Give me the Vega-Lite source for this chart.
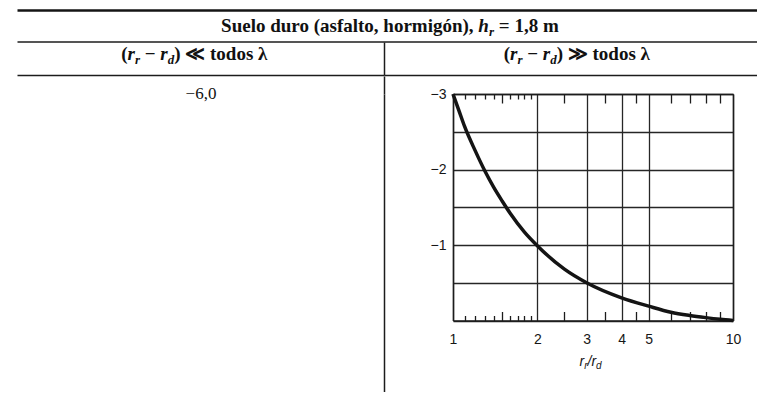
{
  "$schema": "https://vega.github.io/schema/vega-lite/v6.json",
  "background": "white",
  "padding": {"left": 17, "top": 10, "right": 0, "bottom": 0},
  "data": {"values": [{}]},
  "datasets": {
    "curve": [
      {"ratio": 1.0, "level": -3.0},
      {"ratio": 1.05, "level": -2.78},
      {"ratio": 1.1, "level": -2.57},
      {"ratio": 1.2, "level": -2.25},
      {"ratio": 1.3, "level": -1.98},
      {"ratio": 1.4, "level": -1.76},
      {"ratio": 1.5, "level": -1.58},
      {"ratio": 1.6, "level": -1.42},
      {"ratio": 1.8, "level": -1.17},
      {"ratio": 2.0, "level": -0.99},
      {"ratio": 2.5, "level": -0.68},
      {"ratio": 3.0, "level": -0.5},
      {"ratio": 4.0, "level": -0.3},
      {"ratio": 5.0, "level": -0.19},
      {"ratio": 6.0, "level": -0.11},
      {"ratio": 7.0, "level": -0.067},
      {"ratio": 8.0, "level": -0.038},
      {"ratio": 9.0, "level": -0.016},
      {"ratio": 10.0, "level": 0.0}
    ]
  },
  "spacing": 0,
  "vconcat": [
    {
      "width": 740,
      "height": 31.5,
      "layer": [
        {
          "mark": {"type": "text"},
          "encoding": {
            "text": {"value": ""},
            "x": {"datum": 0.5, "type": "quantitative", "scale": {"domain": [0, 1]},
                  "axis": {"orient": "top", "domain": true, "domainWidth": 2.5, "domainColor": "#141414", "ticks": false, "labels": false, "grid": false, "title": null}},
            "y": {"datum": 0.5, "type": "quantitative", "scale": {"domain": [0, 1]}, "axis": null}
          }
        },
        {
          "mark": {"type": "text"},
          "encoding": {
            "text": {"value": ""},
            "x": {"datum": 0.5, "type": "quantitative", "scale": {"domain": [0, 1]},
                  "axis": {"orient": "bottom", "domain": true, "domainWidth": 1.5, "domainColor": "#1c1c1c", "ticks": false, "labels": false, "grid": false, "title": null}},
            "y": {"datum": 0.5, "type": "quantitative", "scale": {"domain": [0, 1]}, "axis": null}
          }
        },
        {
          "mark": {"type": "text", "font": "Liberation Serif", "fontSize": 19, "fontWeight": "bold", "align": "right", "baseline": "alphabetic", "dx": 86.6, "dy": 6, "color": "#111"},
          "encoding": {"text": {"value": "Suelo duro (asfalto, hormigón),"}}
        },
        {
          "mark": {"type": "text", "font": "Liberation Serif", "fontSize": 19, "fontWeight": "bold", "fontStyle": "italic", "align": "left", "baseline": "alphabetic", "dx": 91.3, "dy": 6, "color": "#111"},
          "encoding": {"text": {"value": "h"}}
        },
        {
          "mark": {"type": "text", "font": "Liberation Serif", "fontSize": 13, "fontWeight": "bold", "fontStyle": "italic", "align": "left", "baseline": "alphabetic", "dx": 101.9, "dy": 10, "color": "#111"},
          "encoding": {"text": {"value": "r"}}
        },
        {
          "mark": {"type": "text", "font": "Liberation Serif", "fontSize": 19, "fontWeight": "bold", "align": "left", "baseline": "alphabetic", "dx": 111.8, "dy": 6, "color": "#111"},
          "encoding": {"text": {"value": "= 1,8 m"}}
        }
      ],
      "resolve": {"axis": {"x": "independent"}}
    },
    {
      "spacing": 0,
      "hconcat": [
        {
          "width": 367,
          "height": 33,
          "layer": [
            {
              "mark": {"type": "text"},
              "encoding": {
                "text": {"value": ""},
                "x": {"datum": 0.5, "type": "quantitative", "scale": {"domain": [0, 1]},
                      "axis": {"orient": "bottom", "domain": true, "domainWidth": 1.5, "domainColor": "#1c1c1c", "ticks": false, "labels": false, "grid": false, "title": null}},
                "y": {"datum": 0.5, "type": "quantitative", "scale": {"domain": [0, 1]},
                      "axis": {"orient": "right", "domain": true, "domainWidth": 1.5, "domainColor": "#1c1c1c", "ticks": false, "labels": false, "grid": false, "title": null, "minExtent": 0}}
              }
            },
            {"mark": {"type": "text", "font": "Liberation Serif", "fontSize": 19, "fontWeight": "bold", "align": "left", "baseline": "alphabetic", "dx": -79.3, "dy": 1, "color": "#111"}, "encoding": {"text": {"value": "("}}},
            {"mark": {"type": "text", "font": "Liberation Serif", "fontSize": 19, "fontWeight": "bold", "fontStyle": "italic", "align": "left", "baseline": "alphabetic", "dx": -73.0, "dy": 1, "color": "#111"}, "encoding": {"text": {"value": "r"}}},
            {"mark": {"type": "text", "font": "Liberation Serif", "fontSize": 13, "fontWeight": "bold", "fontStyle": "italic", "align": "left", "baseline": "alphabetic", "dx": -65.6, "dy": 5, "color": "#111"}, "encoding": {"text": {"value": "r"}}},
            {"mark": {"type": "text", "font": "Liberation Serif", "fontSize": 19, "fontWeight": "bold", "align": "left", "baseline": "alphabetic", "dx": -55.8, "dy": 1, "color": "#111"}, "encoding": {"text": {"value": "−"}}},
            {"mark": {"type": "text", "font": "Liberation Serif", "fontSize": 19, "fontWeight": "bold", "fontStyle": "italic", "align": "left", "baseline": "alphabetic", "dx": -40.2, "dy": 1, "color": "#111"}, "encoding": {"text": {"value": "r"}}},
            {"mark": {"type": "text", "font": "Liberation Serif", "fontSize": 13, "fontWeight": "bold", "fontStyle": "italic", "align": "left", "baseline": "alphabetic", "dx": -32.8, "dy": 5, "color": "#111"}, "encoding": {"text": {"value": "d"}}},
            {"mark": {"type": "text", "font": "Liberation Serif", "fontSize": 19, "fontWeight": "bold", "align": "left", "baseline": "alphabetic", "dx": -26.3, "dy": 1, "color": "#111"}, "encoding": {"text": {"value": ") ≪ todos λ"}}}
          ]
        },
        {
          "width": 373,
          "height": 33,
          "layer": [
            {
              "mark": {"type": "text"},
              "encoding": {
                "text": {"value": ""},
                "x": {"datum": 0.5, "type": "quantitative", "scale": {"domain": [0, 1]},
                      "axis": {"orient": "bottom", "domain": true, "domainWidth": 1.5, "domainColor": "#1c1c1c", "ticks": false, "labels": false, "grid": false, "title": null}},
                "y": {"datum": 0.5, "type": "quantitative", "scale": {"domain": [0, 1]}, "axis": null}
              }
            },
            {"mark": {"type": "text", "font": "Liberation Serif", "fontSize": 19, "fontWeight": "bold", "align": "left", "baseline": "alphabetic", "dx": -66.8, "dy": 1, "color": "#111"}, "encoding": {"text": {"value": "("}}},
            {"mark": {"type": "text", "font": "Liberation Serif", "fontSize": 19, "fontWeight": "bold", "fontStyle": "italic", "align": "left", "baseline": "alphabetic", "dx": -60.5, "dy": 1, "color": "#111"}, "encoding": {"text": {"value": "r"}}},
            {"mark": {"type": "text", "font": "Liberation Serif", "fontSize": 13, "fontWeight": "bold", "fontStyle": "italic", "align": "left", "baseline": "alphabetic", "dx": -53.1, "dy": 5, "color": "#111"}, "encoding": {"text": {"value": "r"}}},
            {"mark": {"type": "text", "font": "Liberation Serif", "fontSize": 19, "fontWeight": "bold", "align": "left", "baseline": "alphabetic", "dx": -43.3, "dy": 1, "color": "#111"}, "encoding": {"text": {"value": "−"}}},
            {"mark": {"type": "text", "font": "Liberation Serif", "fontSize": 19, "fontWeight": "bold", "fontStyle": "italic", "align": "left", "baseline": "alphabetic", "dx": -27.7, "dy": 1, "color": "#111"}, "encoding": {"text": {"value": "r"}}},
            {"mark": {"type": "text", "font": "Liberation Serif", "fontSize": 13, "fontWeight": "bold", "fontStyle": "italic", "align": "left", "baseline": "alphabetic", "dx": -20.3, "dy": 5, "color": "#111"}, "encoding": {"text": {"value": "d"}}},
            {"mark": {"type": "text", "font": "Liberation Serif", "fontSize": 19, "fontWeight": "bold", "align": "left", "baseline": "alphabetic", "dx": -13.8, "dy": 1, "color": "#111"}, "encoding": {"text": {"value": ") ≫ todos λ"}}}
          ]
        }
      ]
    },
    {
      "spacing": 0,
      "hconcat": [
        {
          "width": 367,
          "height": 298,
          "mark": {"type": "text", "font": "Liberation Serif", "fontSize": 17, "align": "center", "baseline": "middle", "dx": 0.5, "color": "#111"},
          "encoding": {
            "text": {"value": "−6,0"},
            "x": {"datum": 0.5, "type": "quantitative", "scale": {"domain": [0, 1]},
                  "axis": {"orient": "top", "values": [1], "domain": false, "labels": false, "grid": false, "ticks": true, "tickSize": 18, "tickWidth": 1.5, "tickColor": "#1c1c1c", "title": null}},
            "y": {"datum": 1, "type": "quantitative", "scale": {"domain": [0, 1]},
                  "axis": {"orient": "right", "domain": true, "domainWidth": 1.5, "domainColor": "#1c1c1c", "ticks": false, "labels": false, "grid": false, "title": null, "minExtent": 0}}
          }
        },
        {
          "spacing": 0,
          "vconcat": [
            {
              "width": 280,
              "height": 226.5,
              "data": {"name": "curve"},
              "layer": [
                {
                  "mark": {"type": "line", "color": "#141414", "strokeWidth": 3.5, "interpolate": "monotone"},
                  "encoding": {
                    "x": {"field": "ratio", "type": "quantitative",
                          "scale": {"type": "log", "domain": [1, 10]},
                          "axis": {"orient": "bottom", "values": [1, 2, 3, 4, 5, 10], "format": "d", "grid": true, "gridColor": "#262626", "gridWidth": 1.3, "ticks": false, "domain": true, "domainWidth": 1.5, "domainColor": "#1c1c1c", "labelFont": "Liberation Sans", "labelFontSize": 14, "labelColor": "#161616", "labelPadding": 12, "labelFlush": false, "title": null}},
                    "y": {"field": "level", "type": "quantitative",
                          "scale": {"domain": [-3, 0], "reverse": true},
                          "axis": {"orient": "left", "values": [-3, -2.5, -2, -1.5, -1, -0.5, 0], "format": "~g", "grid": true, "gridColor": "#262626", "gridWidth": 1.3, "ticks": false, "domain": true, "domainWidth": 1.5, "domainColor": "#1c1c1c", "labelExpr": "datum.value == -3 || datum.value == -2 || datum.value == -1 ? datum.label : ''", "labelFont": "Liberation Sans", "labelFontSize": 14, "labelColor": "#161616", "labelPadding": 7, "minExtent": 68, "title": null}}
                  }
                },
                {
                  "mark": {"type": "line", "opacity": 0},
                  "encoding": {
                    "x": {"field": "ratio", "type": "quantitative",
                          "axis": {"orient": "top", "values": [1.1, 1.2, 1.3, 1.4, 1.5, 1.6, 1.7, 1.8, 1.9, 2.5, 3.5, 4.5, 6, 7, 8, 9], "labels": false, "grid": false, "domain": true, "domainWidth": 1.5, "domainColor": "#1c1c1c", "ticks": true, "tickColor": "#1c1c1c", "tickWidth": 1.3, "tickSize": {"condition": {"test": "datum.value >= 2.4 || (datum.value > 1.45 && datum.value < 1.55)", "value": -9}, "value": -5}, "minExtent": 18, "title": null}},
                    "y": {"field": "level", "type": "quantitative",
                          "axis": {"orient": "right", "domain": true, "domainWidth": 1.5, "domainColor": "#1c1c1c", "ticks": false, "labels": false, "grid": false, "minExtent": 0, "title": null}}
                  }
                },
                {
                  "mark": {"type": "line", "opacity": 0},
                  "encoding": {
                    "x": {"field": "ratio", "type": "quantitative",
                          "axis": {"orient": "bottom", "values": [1.1, 1.2, 1.3, 1.4, 1.5, 1.6, 1.7, 1.8, 1.9, 2.5, 3.5, 4.5, 6, 7, 8, 9], "labels": false, "grid": false, "domain": false, "ticks": true, "tickColor": "#1c1c1c", "tickWidth": 1.3, "tickSize": {"condition": {"test": "datum.value >= 2.4 || (datum.value > 1.45 && datum.value < 1.55)", "value": -9}, "value": -5}, "title": null}},
                    "y": {"field": "level", "type": "quantitative", "axis": null}
                  }
                }
              ],
              "resolve": {"axis": {"x": "independent", "y": "independent"}}
            },
            {
              "width": 280,
              "height": 30,
              "layer": [
                {"mark": {"type": "text", "font": "Liberation Sans", "fontSize": 14, "fontStyle": "italic", "align": "left", "baseline": "alphabetic", "dx": -13.5, "dy": 4, "color": "#161616"}, "encoding": {"text": {"value": "r"}}},
                {"mark": {"type": "text", "font": "Liberation Sans", "fontSize": 10, "fontStyle": "italic", "align": "left", "baseline": "alphabetic", "dx": -8.8, "dy": 7, "color": "#161616"}, "encoding": {"text": {"value": "r"}}},
                {"mark": {"type": "text", "font": "Liberation Sans", "fontSize": 14, "fontStyle": "italic", "align": "left", "baseline": "alphabetic", "dx": -5.5, "dy": 4, "color": "#161616"}, "encoding": {"text": {"value": "/r"}}},
                {"mark": {"type": "text", "font": "Liberation Sans", "fontSize": 10, "fontStyle": "italic", "align": "left", "baseline": "alphabetic", "dx": 3.1, "dy": 7, "color": "#161616"}, "encoding": {"text": {"value": "d"}}}
              ]
            }
          ]
        }
      ]
    }
  ],
  "config": {
    "view": {"stroke": null},
    "concat": {"spacing": 0}
  }
}
